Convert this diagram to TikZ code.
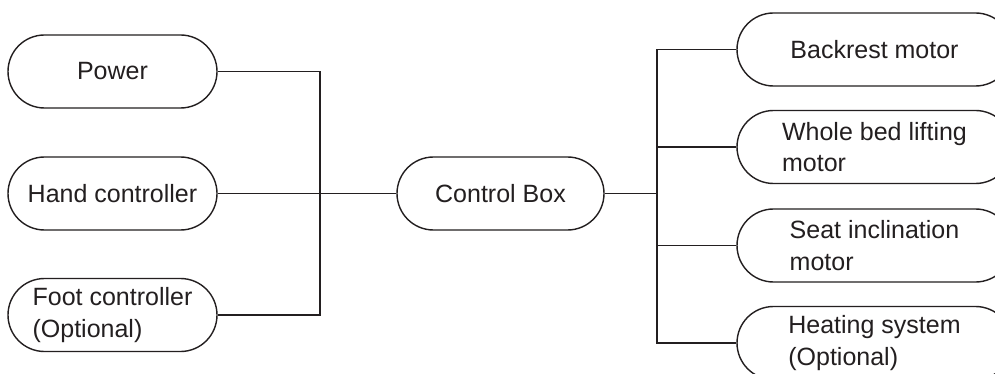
\documentclass[tikz,border=0pt]{standalone}
\usepackage{fontspec}
\setmainfont{Liberation Sans}
\usetikzlibrary{shapes.misc}
\definecolor{ink}{HTML}{231F20}
\begin{document}
\begin{tikzpicture}[x=1pt,y=-1pt,
  pill/.style={draw=ink,line width=1.4pt,rounded rectangle,inner sep=0pt,
    minimum height=73pt,align=left,text=ink,
    font=\fontsize{25}{31.5}\selectfont},
  lpill/.style={pill,minimum width=209pt},
  rpill/.style={pill,minimum width=275pt},
  wire/.style={draw=ink,line width=1.2pt}]
\useasboundingbox (0,0) rectangle (995,374);
\clip (0,0) rectangle (995,374);
\fill[white] (0,0) rectangle (995,374);
\node[lpill] (power) at (112.5,71.5) {Power};
\node[lpill] (hand) at (112.5,193.5) {Hand controller};
\node[lpill] (foot) at (112.5,315) {Foot controller\\(Optional)};
\node[pill,minimum width=207pt] (cb) at (500.5,193.5) {Control Box};
\node[rpill] (back) at (874.5,49.5) {Backrest motor};
\node[rpill] (whole) at (874.5,147) {Whole bed lifting\\motor};
\node[rpill] (seat) at (874.5,245.5) {Seat inclination\\motor};
\node[rpill] (heat) at (874.5,343) {Heating system\\(Optional)};
\coordinate (bl) at (320,0);
\coordinate (br) at (657,0);
\draw[wire] (power.east) -- (power.east -| bl) -- (foot.east -| bl) -- (foot.east);
\draw[wire] (hand.east) -- (cb.west);
\draw[wire] (cb.east) -- (cb.east -| br);
\draw[wire] (back.west) -- (back.west -| br) -- (heat.west -| br) -- (heat.west);
\draw[wire] (whole.west) -- (whole.west -| br);
\draw[wire] (seat.west) -- (seat.west -| br);
\end{tikzpicture}
\end{document}
